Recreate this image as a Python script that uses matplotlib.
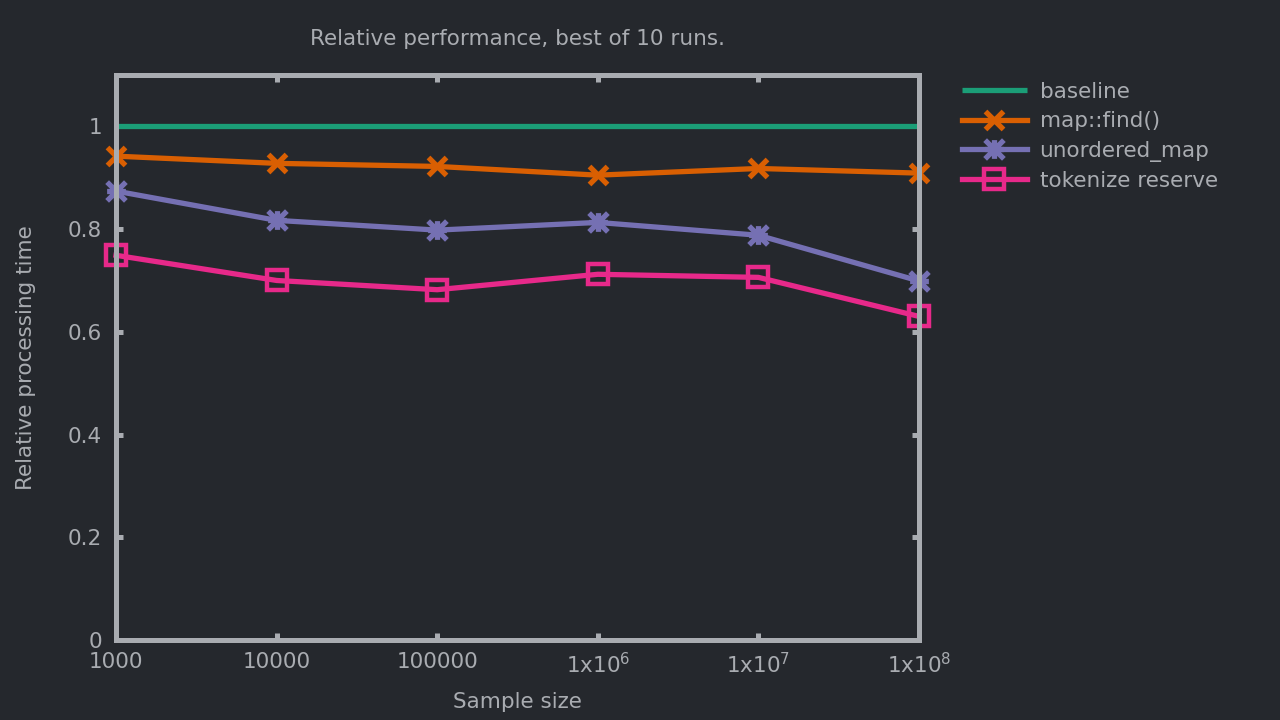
import matplotlib
matplotlib.use("Agg")
import matplotlib.pyplot as plt
from matplotlib.path import Path

# ---- data ----
sample_sizes = [1e3, 1e4, 1e5, 1e6, 1e7, 1e8]
x_tick_labels = ["1000", "10000", "100000", r"1x10$^{6}$", r"1x10$^{7}$", r"1x10$^{8}$"]
y_ticks = [0, 0.2, 0.4, 0.6, 0.8, 1.0]
y_tick_labels = ["0", "0.2", "0.4", "0.6", "0.8", "1"]

baseline = [1.0, 1.0, 1.0, 1.0, 1.0, 1.0]
map_find = [0.942, 0.928, 0.922, 0.905, 0.918, 0.909]
unordered_map = [0.874, 0.817, 0.798, 0.813, 0.788, 0.699]
tokenize_reserve = [0.749, 0.700, 0.682, 0.712, 0.706, 0.630]

series_names = ["baseline", "map::find()", "unordered_map", "tokenize reserve"]
colors = ["#1b9e77", "#d95f02", "#7570b3", "#e7298a"]

# ---- style ----
BG = "#25282d"
FG = "#a9acb1"
FS = 15.5
plt.rcParams["font.family"] = ["DejaVu Sans"]
plt.rcParams["mathtext.fontset"] = "dejavusans"

star = Path(
    [(-1, -1), (1, 1), (-1, 1), (1, -1), (-1, 0), (1, 0), (0, -1), (0, 1)],
    [Path.MOVETO, Path.LINETO, Path.MOVETO, Path.LINETO,
     Path.MOVETO, Path.LINETO, Path.MOVETO, Path.LINETO],
)

fig = plt.figure(figsize=(12.8, 7.2), dpi=100, facecolor=BG)
ax = fig.add_axes([116 / 1280, 1 - 640 / 720, (919 - 116) / 1280, (640 - 75) / 720])
ax.set_facecolor(BG)

lw = 3.8
ax.plot(sample_sizes, baseline, color=colors[0], lw=lw, label=series_names[0],
        solid_capstyle="butt", zorder=2)
ax.plot(sample_sizes, map_find, color=colors[1], lw=lw, marker="x", ms=13, mew=3.8,
        label=series_names[1], clip_on=False, zorder=2)
ax.plot(sample_sizes, unordered_map, color=colors[2], lw=lw, marker=star, ms=13.5, mew=3.8,
        mfc="none", label=series_names[2], clip_on=False, zorder=2)
ax.plot(sample_sizes, tokenize_reserve, color=colors[3], lw=lw, marker="s", ms=14, mew=3.2,
        mfc="none", label=series_names[3], clip_on=False, zorder=2)

ax.set_xscale("log")
ax.set_xlim(sample_sizes[0], sample_sizes[-1])
ax.set_ylim(0, 1.1)
ax.set_xticks(sample_sizes)
ax.set_xticklabels(x_tick_labels)
ax.minorticks_off()
ax.set_yticks(y_ticks)
ax.set_yticklabels(y_tick_labels)

for s in ax.spines.values():
    s.set_color(FG)
    s.set_linewidth(3.6)
    s.set_zorder(10)

ax.tick_params(axis="both", which="both", direction="in", length=5, width=3.6,
               color=FG, labelcolor=FG, labelsize=FS, top=True, right=True)
ax.tick_params(axis="x", pad=9)
ax.tick_params(axis="y", pad=10)

ax.set_xlabel("Sample size", color=FG, fontsize=FS, labelpad=10)
ax.set_ylabel("Relative processing time", color=FG, fontsize=FS, labelpad=23)
fig.text(517 / 1280, 1 - 39 / 720, "Relative performance, best of 10 runs.",
         color=FG, fontsize=FS, ha="center", va="center")

leg = ax.legend(loc="upper left", bbox_to_anchor=(962 / 1280, 1 - 82 / 720),
                bbox_transform=fig.transFigure, frameon=False, fontsize=FS,
                handlelength=3.0, handletextpad=0.6, labelspacing=0.43,
                borderaxespad=0, borderpad=0)
for t in leg.get_texts():
    t.set_color(FG)

fig.savefig("out.png", dpi=100, facecolor=BG)
